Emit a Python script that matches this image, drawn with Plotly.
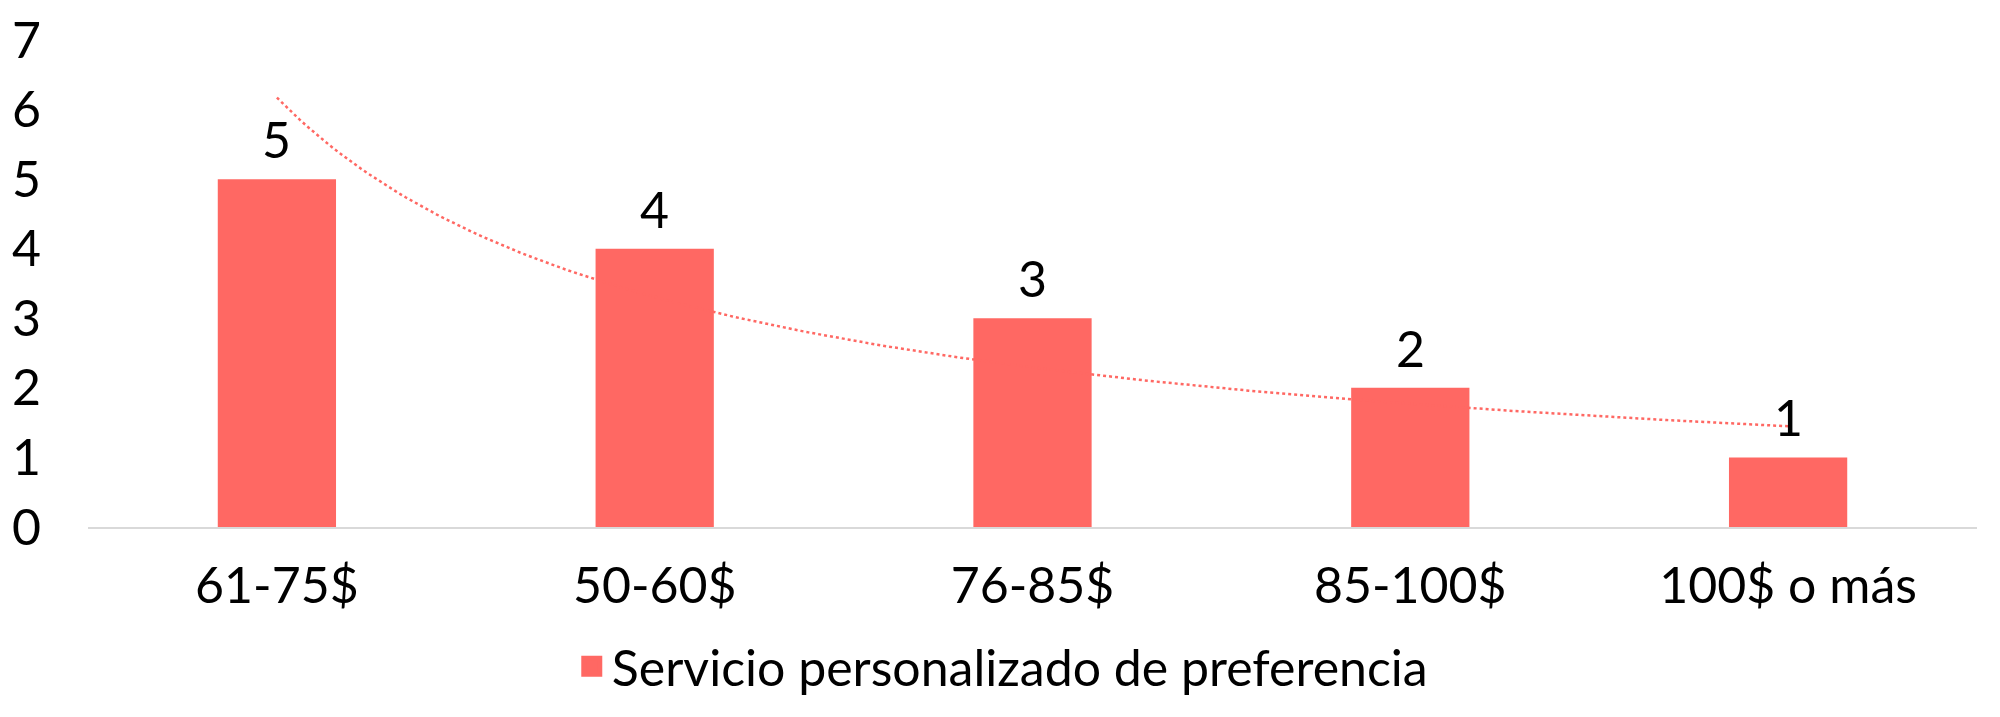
import numpy as np
import plotly.graph_objects as go

categories = ["61-75$", "50-60$", "76-85$", "85-100$", "100$ o más"]
values = [5, 4, 3, 2, 1]
series_name = "Servicio personalizado de preferencia"
y_ticks = [0, 1, 2, 3, 4, 5, 6, 7]

BAR = "#FF6863"
FONT = "Lato"
FS = 50

pos = np.arange(len(categories))

# Power trendline (Excel-style) fitted to the bar values
xn = pos + 1.0
slope, intercept = np.polyfit(np.log(xn), np.log(np.array(values, dtype=float)), 1)
tx = np.linspace(1, len(categories), 200)
ty = np.exp(intercept) * tx ** slope

fig = go.Figure()
fig.add_trace(go.Scatter(
    x=tx - 1, y=ty, mode="lines",
    line=dict(color=BAR, width=2.5, dash="dot"),
    showlegend=False, hoverinfo="skip",
))
fig.add_trace(go.Bar(
    x=pos, y=values, width=0.313, marker=dict(color=BAR, line=dict(width=0)),
    showlegend=False, name=series_name,
))
# legend-only entry with a larger square key
fig.add_trace(go.Scatter(
    x=[None], y=[None], mode="markers", name=series_name,
    marker=dict(symbol="square", size=16, color=BAR, line=dict(color=BAR, width=5)),
))

for p, v in zip(pos, values):
    fig.add_annotation(x=p, y=v, text=str(v), showarrow=False,
                       yanchor="middle", yshift=40,
                       font=dict(family=FONT, size=FS, color="black"))

fig.update_layout(
    width=1992, height=709,
    margin=dict(l=80, r=23, t=32, b=190, autoexpand=False),
    paper_bgcolor="white", plot_bgcolor="white",
    font=dict(family=FONT, size=FS, color="black"),
    showlegend=True,
    legend=dict(orientation="h", x=0.484, xanchor="center", y=-0.286, yanchor="middle",
                font=dict(family=FONT, size=FS, color="black"),
                itemsizing="trace"),
    xaxis=dict(
        range=[-0.5, len(categories) - 0.5],
        tickmode="array", tickvals=list(pos), ticktext=categories,
        showgrid=False, zeroline=False, automargin=False,
        showline=True, linecolor="#D9D9D9", linewidth=2,
        ticks="", ticklabelstandoff=14,
        tickfont=dict(family=FONT, size=FS, color="black"),
    ),
    yaxis=dict(
        range=[0, 7], tickmode="array", tickvals=y_ticks,
        showgrid=False, zeroline=False, showline=False, automargin=False,
        ticks="", ticklabelstandoff=46,
        tickfont=dict(family=FONT, size=FS, color="black"),
    ),
)

fig.write_html("out.html")
